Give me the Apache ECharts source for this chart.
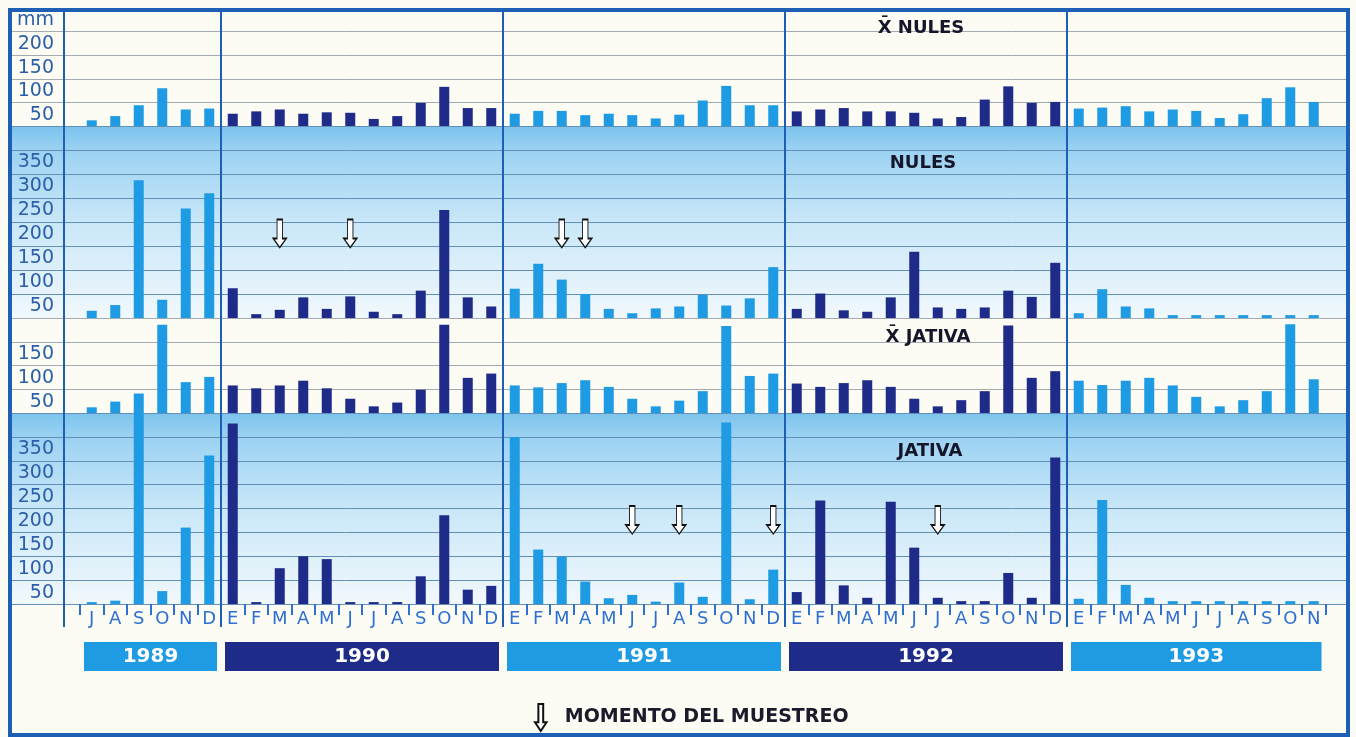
<!DOCTYPE html>
<html lang="es">
<head>
<meta charset="UTF-8">
<style>
html, body { margin: 0; height: 100%; background: #fff; }
#chart { width: 1356px; height: 737px; }
</style>
</head>
<body>
<div id="chart"></div>
<script src="https://cdn.jsdelivr.net/npm/echarts@6/dist/echarts.min.js"></script>
<script>
// months Jul 1989 .. Nov 1993
var months = ['J','A','S','O','N','D',
  'E','F','M','A','M','J','J','A','S','O','N','D',
  'E','F','M','A','M','J','J','A','S','O','N','D',
  'E','F','M','A','M','J','J','A','S','O','N','D',
  'E','F','M','A','M','J','J','A','S','O','N'];
var years = ['1989', '1990', '1991', '1992', '1993'];
var monthsPerYear = [6, 12, 12, 12, 11];

// precipitation, mm
var meanNules = [12, 21, 44, 80, 35, 37,
  26, 31, 35, 26, 29, 28, 15, 21, 49, 83, 38, 38,
  26, 32, 32, 23, 26, 23, 16, 24, 54, 85, 44, 44,
  31, 35, 38, 31, 31, 28, 16, 19, 56, 84, 49, 51,
  37, 39, 42, 31, 35, 32, 17, 25, 59, 82, 51];
var nules = [15, 27, 287, 38, 228, 260,
  62, 8, 17, 43, 19, 45, 13, 8, 57, 225, 43, 24,
  61, 113, 80, 50, 19, 10, 20, 24, 48, 26, 41, 106,
  19, 51, 16, 13, 43, 138, 22, 19, 22, 57, 44, 115,
  10, 60, 24, 20, 6, 6, 6, 6, 6, 6, 6];
var meanJativa = [12, 24, 41, 186, 65, 76,
  58, 52, 58, 68, 52, 30, 14, 22, 49, 186, 74, 83,
  58, 54, 63, 69, 55, 30, 14, 26, 46, 183, 78, 83,
  62, 55, 63, 69, 55, 30, 14, 27, 46, 184, 74, 88,
  68, 59, 68, 74, 58, 34, 14, 27, 46, 187, 71];
var jativa = [4, 7, 400, 27, 160, 311,
  378, 4, 75, 100, 94, 4, 4, 4, 58, 186, 30, 38,
  350, 114, 99, 47, 12, 19, 5, 45, 15, 380, 10, 72,
  25, 217, 39, 13, 214, 118, 13, 6, 6, 65, 13, 307,
  11, 218, 40, 13, 6, 6, 6, 6, 6, 6, 6];

// sampling moments (month index) and the level the arrow is drawn at
var samplesNules = [8, 11, 20, 21];
var samplesJativa = [23, 25, 29, 36];
var arrowLevel = 176;
var sampleName = 'MOMENTO DEL MUESTREO';

var panelTitles = ['X\u0304 NULES', 'NULES', 'X\u0304 JATIVA', 'JATIVA'];
var unitLabel = 'mm';

var LIGHT = '#1f9be4', DARK = '#1f2b88', FRAME = '#1c5fb5';
var FONT = '"DejaVu Sans", sans-serif';

// year of each month -> colour
var yearOf = [];
monthsPerYear.forEach(function (n, k) { for (var j = 0; j < n; j++) yearOf.push(k); });
var yearStart = [];
monthsPerYear.reduce(function (acc, n) { yearStart.push(acc); return acc + n; }, 0);
var dividers = yearStart.slice(1).map(function (s) { return s - 0.5; });

var W = 23.5, plotL = 80, frameL = 12, frameR = 1346;
var xMin = -(plotL - frameL) / W - 0.5;
var xMax = xMin + (frameR - frameL) / W;

var blueBand = new echarts.graphic.LinearGradient(0, 0, 0, 1, [
  { offset: 0, color: '#7cc3ed' },
  { offset: 0.13, color: '#9cd2f2' },
  { offset: 0.5, color: '#c9e7f8' },
  { offset: 1, color: '#f1f8fc' }
]);

var panels = [
  { top: 8, height: 118, max: 250, data: meanNules, blue: false },
  { top: 126, height: 192, max: 400, data: nules, blue: true },
  { top: 318, height: 95, max: 200, data: meanJativa, blue: false },
  { top: 413, height: 191, max: 400, data: jativa, blue: true }
];

var grid = [], xAxis = [], yAxis = [], series = [];

var dividerLine = {
  silent: true, symbol: 'none', animation: false,
  label: { show: false },
  lineStyle: { color: FRAME, width: 2, type: 'solid' },
  emphasis: { disabled: true },
  data: dividers.map(function (d) { return { xAxis: d }; })
};

panels.forEach(function (p, k) {
  grid.push({
    left: frameL, right: 1356 - frameR, top: p.top, height: p.height,
    show: true, borderWidth: 0,
    backgroundColor: p.blue ? blueBand : '#fcfcf5'
  });
  xAxis.push({ type: 'value', gridIndex: k, min: xMin, max: xMax, show: false });
  yAxis.push({
    type: 'value', gridIndex: k, min: 0, max: p.max, interval: 50,
    axisLine: { show: false }, axisTick: { show: false },
    splitLine: { lineStyle: { color: p.blue ? '#6290b6' : '#a3abb2', width: 1 } },
    axisLabel: {
      inside: true, align: 'right', margin: 42, verticalAlign: 'top',
      padding: [3, 0, 0, 0],
      color: '#2a5ea9', fontSize: 19, fontFamily: FONT,
      formatter: function (v) {
        if (v === 0) return '';
        if (v === p.max) return k === 0 ? unitLabel : '';
        return String(v);
      }
    }
  });
  series.push({
    type: 'bar', xAxisIndex: k, yAxisIndex: k, barWidth: 10,
    data: p.data.map(function (v, i) {
      return { value: [i, v], itemStyle: { color: yearOf[i] % 2 ? DARK : LIGHT } };
    }),
    markLine: dividerLine
  });
});

// month letters row
grid.push({ left: frameL, right: 1356 - frameR, top: 604, height: 23 });
xAxis.push({
  type: 'value', gridIndex: 4, min: xMin, max: xMax, position: 'top',
  axisLine: { show: false, onZero: false }, splitLine: { show: false },
  axisTick: {
    show: true, inside: true, length: 11,
    lineStyle: { color: '#2d6fd2', width: 2 },
    customValues: months.map(function (m, i) { return i - 0.5; }).concat([months.length - 0.5])
  },
  axisLabel: {
    inside: true, margin: 6, color: '#2d6fd2', fontSize: 18, fontFamily: FONT,
    customValues: months.map(function (m, i) { return i; }),
    formatter: function (v) { return months[Math.round(v)]; }
  }
});
yAxis.push({ type: 'value', gridIndex: 4, min: 0, max: 1, show: false });
series.push({ type: 'scatter', xAxisIndex: 4, yAxisIndex: 4, data: [], markLine: dividerLine });

// year bars
grid.push({ left: plotL, right: 1356 - (plotL + W * months.length), top: 638, height: 37 });
xAxis.push({ type: 'value', gridIndex: 5, min: 0, max: months.length, show: false });
yAxis.push({ type: 'category', gridIndex: 5, data: [''], show: false });
years.forEach(function (y, k) {
  series.push({
    type: 'bar', name: y, stack: 'years', xAxisIndex: 5, yAxisIndex: 5,
    barWidth: 37, data: [monthsPerYear[k]],
    itemStyle: { color: k % 2 ? DARK : LIGHT, borderColor: '#fcfcf5', borderWidth: 4 },
    label: {
      show: true, position: 'inside', formatter: y,
      color: '#ffffff', fontSize: 20, fontWeight: 'bold', fontFamily: FONT
    }
  });
});

// sampling arrows
var arrowPath = 'path://M3.5,0 L8.5,0 L8.5,19 L12,19 L6,28 L0,19 L3.5,19 Z';
[[1, samplesNules], [3, samplesJativa]].forEach(function (s) {
  series.push({
    type: 'scatter', name: sampleName, xAxisIndex: s[0], yAxisIndex: s[0],
    symbol: arrowPath, symbolSize: [13, 28],
    itemStyle: { color: '#ffffff', borderColor: '#111111', borderWidth: 1.3, opacity: 1 },
    data: s[1].map(function (i) { return [i, arrowLevel]; }),
    z: 5
  });
});

var titlePos = [[921, 28], [923, 163], [928, 337], [930, 451]];
var graphic = panelTitles.map(function (t, k) {
  return {
    type: 'text', x: titlePos[k][0], y: titlePos[k][1], z: 20,
    style: {
      text: t, font: 'bold 18px ' + FONT, fill: '#16162a',
      align: 'center', verticalAlign: 'middle'
    }
  };
});
graphic.push({
  type: 'line', z: 20,
  shape: { x1: 64, y1: 10, x2: 64, y2: 627 },
  style: { stroke: FRAME, lineWidth: 2 }
});
graphic.push({
  type: 'rect', z: 30,
  shape: { x: 10, y: 10, width: 1338, height: 725 },
  style: { fill: null, stroke: FRAME, lineWidth: 4 }
});

var myChart = echarts.init(document.getElementById('chart'));
myChart.setOption({
  animation: false,
  backgroundColor: '#fcfcf5',
  grid: grid,
  xAxis: xAxis,
  yAxis: yAxis,
  legend: {
    left: 529, top: 698, itemWidth: 14, itemHeight: 27, selectedMode: false,
    data: [{ name: sampleName, icon: arrowPath }],
    textStyle: { fontFamily: FONT, fontWeight: 'bold', fontSize: 19, color: '#1b1b2b', padding: [0, 0, 0, 12] }
  },
  graphic: graphic,
  series: series
});
</script>
</body>
</html>
